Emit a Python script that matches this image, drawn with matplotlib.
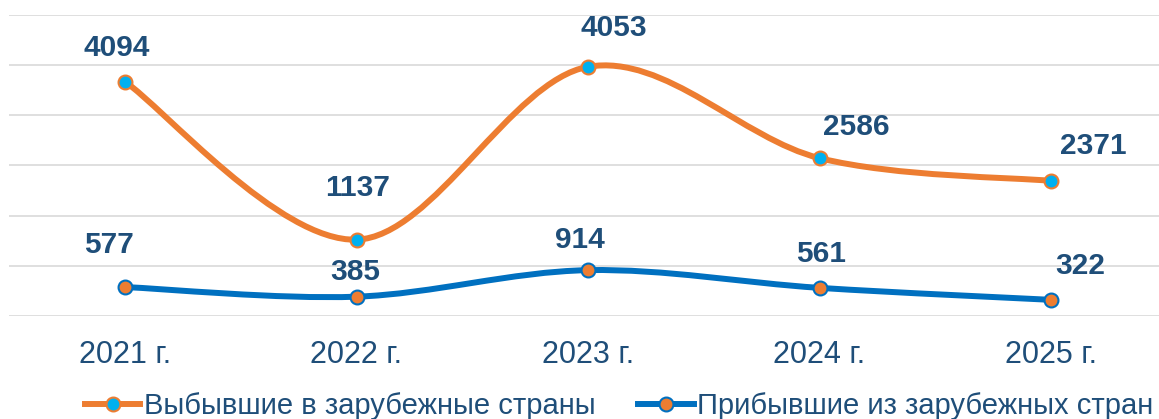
import numpy as np
import matplotlib.pyplot as plt
from matplotlib.path import Path
from matplotlib.patches import PathPatch
from matplotlib.lines import Line2D

plt.rcParams['font.family'] = ['Liberation Sans', 'DejaVu Sans']

# данные
years = ['2021 г.', '2022 г.', '2023 г.', '2024 г.', '2025 г.']
departed = [4094, 1137, 4053, 2586, 2371]   # Выбывшие в зарубежные страны
arrived = [577, 385, 914, 561, 322]         # Прибывшие из зарубежных стран

# подписи смещены вручную (пиксели: dx, dy до центра цифр)
departed_offsets = [(-8, 36), (1, 54), (26, 41), (37, 34), (42, 37)]
arrived_offsets = [(-16, 45), (-1, 27), (-8, 33), (2, 36), (29, 36)]

ORANGE = '#ED7D31'
BLUE = '#0070C0'
CYAN = '#00B0F0'
TEXT = '#1F4E79'


def smooth_path(x, y, t=1 / 6):
    # сглаженная линия как в Excel: кривые Безье через точки
    x = list(x)
    y = list(y)
    n = len(x)
    verts = [(x[0], y[0])]
    codes = [Path.MOVETO]
    for i in range(n - 1):
        x0, y0 = (x[i - 1], y[i - 1]) if i > 0 else (x[i], y[i])
        x3, y3 = (x[i + 2], y[i + 2]) if i + 2 < n else (x[i + 1], y[i + 1])
        c1 = (x[i] + (x[i + 1] - x0) * t, y[i] + (y[i + 1] - y0) * t)
        c2 = (x[i + 1] - (x3 - x[i]) * t, y[i + 1] - (y3 - y[i]) * t)
        verts += [c1, c2, (x[i + 1], y[i + 1])]
        codes += [Path.CURVE4] * 3
    return Path(verts, codes)


fig = plt.figure(figsize=(11.59, 4.19), dpi=100)
ax = fig.add_axes([9.25 / 1159, 1 - 316 / 419, 1157.5 / 1159, 301 / 419])

x = np.arange(len(years))
# линейный график с накоплением
departed_top = np.add(arrived, departed)

for yv, col in [(arrived, BLUE), (departed_top, ORANGE)]:
    ax.add_patch(PathPatch(smooth_path(x, yv), fill=False, edgecolor=col,
                           lw=4.3, capstyle='round', joinstyle='round', zorder=3))

ax.plot(x, arrived, ls='none', marker='o', ms=10, mfc=ORANGE, mec=BLUE, mew=1.5, zorder=4)
ax.plot(x, departed_top, ls='none', marker='o', ms=10, mfc=CYAN, mec=ORANGE, mew=1.5, zorder=4)

for xi, yi, v, (dx, dy) in zip(x, departed_top, departed, departed_offsets):
    ax.annotate(str(v), (xi, yi), xytext=(dx, dy - 10.5), textcoords='offset pixels',
                ha='center', va='baseline', fontsize=21.5, fontweight='bold', color=TEXT)
for xi, yi, v, (dx, dy) in zip(x, arrived, arrived, arrived_offsets):
    ax.annotate(str(v), (xi, yi), xytext=(dx, dy - 10.5), textcoords='offset pixels',
                ha='center', va='baseline', fontsize=21.5, fontweight='bold', color=TEXT)

ax.set_xlim(-0.5, len(years) - 0.5)
ax.set_ylim(0, 6000)
ax.set_yticks(np.arange(0, 6001, 1000))
ax.set_yticklabels([])
ax.grid(axis='y', color='#D9D9D9', lw=1.2)
ax.set_axisbelow(True)
for s in ax.spines.values():
    s.set_visible(False)
ax.set_xticks(x)
ax.set_xticklabels(years, fontsize=22, color=TEXT)
ax.tick_params(axis='both', length=0)
ax.tick_params(axis='x', pad=17)

handles = [
    Line2D([], [], color=ORANGE, lw=4.3, marker='o', ms=10, mfc=CYAN, mec=ORANGE, mew=1.5),
    Line2D([], [], color=BLUE, lw=4.3, marker='o', ms=10, mfc=ORANGE, mec=BLUE, mew=1.5),
]
leg = fig.legend(handles, ['Выбывшие в зарубежные страны', 'Прибывшие из зарубежных стран'],
                 loc='center left', bbox_to_anchor=(85 / 1159, 1 - 406 / 419), ncol=2,
                 frameon=False, fontsize=21, handlelength=1.9, handletextpad=0.12,
                 columnspacing=1.47, borderpad=0, borderaxespad=0)
for t in leg.get_texts():
    t.set_color(TEXT)

fig.savefig('out.png', dpi=100)
